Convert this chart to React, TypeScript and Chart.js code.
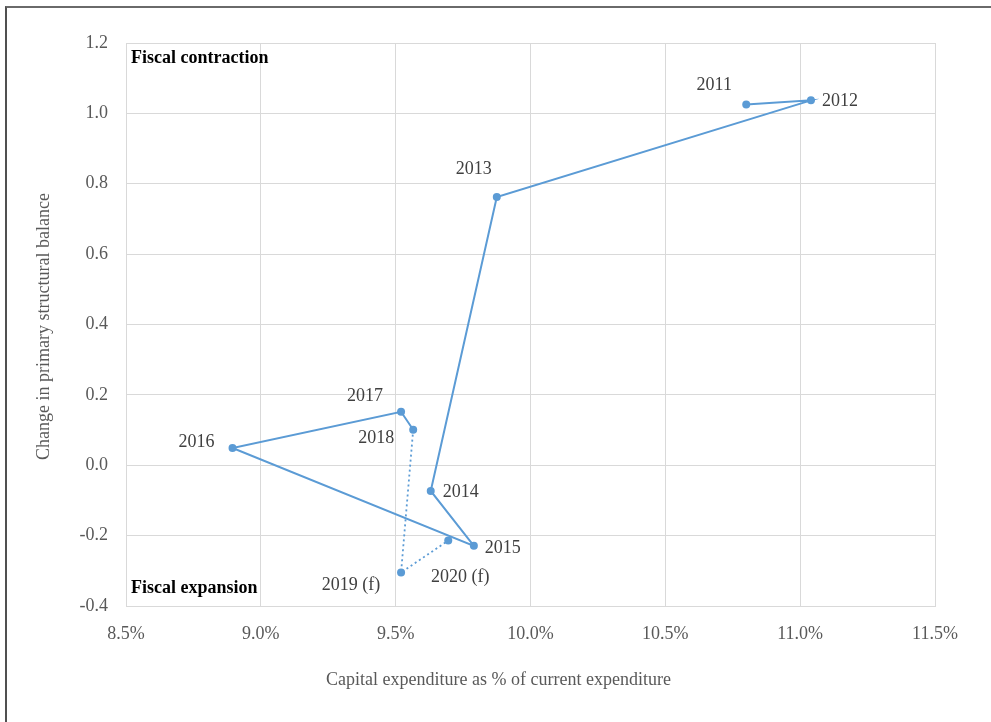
import React, { useEffect, useRef } from "react";
import { Chart, registerables } from "chart.js";

Chart.register(...registerables);

const years = ["2011", "2012", "2013", "2014", "2015", "2016", "2017", "2018", "2019 (f)", "2020 (f)"];
const capexShare = [10.80, 11.04, 9.875, 9.63, 9.79, 8.895, 9.52, 9.565, 9.52, 9.695];
const balanceChange = [1.025, 1.037, 0.762, -0.073, -0.229, 0.049, 0.152, 0.101, -0.305, -0.214];
const forecastFrom = 7; // segments starting at this index are dotted
const xTicks = { min: 8.5, max: 11.5, step: 0.5 };
const yTicks = { min: -0.4, max: 1.2, step: 0.2 };
const xTitle = "Capital expenditure as % of current expenditure";
const yTitle = "Change in primary structural balance";
const topNote = "Fiscal contraction";
const bottomNote = "Fiscal expansion";

// label placement relative to each point (pixels)
const labelOffsets: [number, number][] = [
  [-32, -19], [29, 1], [-23, -28], [30, 1], [29, 2],
  [-36, -6], [-36, -15], [-37, 9], [-50, 13], [12, 37],
];

const FONT = "'Liberation Serif', 'Times New Roman', serif";
const BLUE = "#5b9bd5";

export default function App() {
  const ref = useRef<HTMLCanvasElement | null>(null);

  useEffect(() => {
    if (!ref.current) return;
    const annotations = {
      id: "annotations",
      afterDatasetsDraw(chart: any) {
        const ctx = chart.ctx;
        const meta = chart.getDatasetMeta(0);
        const area = chart.chartArea;
        ctx.save();
        ctx.textAlign = "center";
        ctx.textBaseline = "middle";
        ctx.fillStyle = "#404040";
        ctx.font = `18px ${FONT}`;
        meta.data.forEach((pt: any, i: number) => {
          const [dx, dy] = labelOffsets[i];
          ctx.fillText(years[i], pt.x + dx, pt.y + dy);
        });
        ctx.fillStyle = "#000000";
        ctx.font = `bold 18px ${FONT}`;
        ctx.textAlign = "left";
        ctx.fillText(topNote, area.left + 5, area.top + 15);
        ctx.fillText(bottomNote, area.left + 5, area.bottom - 18);
        // axis titles
        ctx.fillStyle = "#595959";
        ctx.font = `18px ${FONT}`;
        ctx.textAlign = "center";
        ctx.fillText(xTitle, chart.width / 2 + 3, area.bottom + 74);
        ctx.translate(44, (area.top + area.bottom) / 2 + 2);
        ctx.rotate(-Math.PI / 2);
        ctx.fillText(yTitle, 0, 0);
        ctx.restore();
      },
    };

    const chart = new Chart(ref.current, {
      type: "scatter",
      data: {
        datasets: [
          {
            data: capexShare.map((x, i) => ({ x, y: balanceChange[i] })),
            showLine: true,
            borderColor: BLUE,
            backgroundColor: BLUE,
            borderWidth: 2,
            pointRadius: 4,
            pointHoverRadius: 4,
            pointBorderWidth: 0,
            segment: {
              borderDash: (c: any) => (c.p0DataIndex >= forecastFrom ? [2, 3] : undefined),
              borderWidth: (c: any) => (c.p0DataIndex >= forecastFrom ? 1.8 : 2),
            },
          },
        ],
      },
      options: {
        animation: false,
        responsive: false,
        layout: { padding: { top: 43, right: 56, bottom: 0, left: 0 } },
        plugins: { legend: { display: false }, tooltip: { enabled: false } },
        scales: {
          x: {
            type: "linear",
            min: xTicks.min,
            max: xTicks.max,
            afterFit: (s: any) => { s.height = 116; },
            grid: { color: "#d9d9d9", drawTicks: false, lineWidth: 1 },
            border: { color: "#d9d9d9" },
            ticks: {
              stepSize: xTicks.step,
              padding: 17,
              color: "#595959",
              font: { family: FONT, size: 18 },
              callback: (v: any) => Number(v).toFixed(1) + "%",
            },
          },
          y: {
            type: "linear",
            min: yTicks.min,
            max: yTicks.max,
            afterFit: (s: any) => { s.width = 126; },
            grid: { color: "#d9d9d9", drawTicks: false, lineWidth: 1 },
            border: { color: "#d9d9d9" },
            ticks: {
              stepSize: yTicks.step,
              padding: 18,
              color: "#595959",
              font: { family: FONT, size: 18 },
              callback: (v: any) => (Math.abs(Number(v)) < 1e-9 ? 0 : Number(v)).toFixed(1),
            },
          },
        },
      },
      plugins: [annotations],
    });
    return () => chart.destroy();
  }, []);

  return (
    <div style={{ position: "fixed", left: 0, top: 0, width: 991, height: 722, background: "#fff" }}>
      <canvas ref={ref} width={991} height={722} style={{ position: "absolute", left: 0, top: 0, width: 991, height: 722 }} />
      <div
        style={{
          position: "absolute", left: 5, top: 6, right: 0, bottom: 0,
          borderLeft: "2px solid #505050", borderTop: "2px solid #6a6a6a", pointerEvents: "none",
        }}
      />
    </div>
  );
}
